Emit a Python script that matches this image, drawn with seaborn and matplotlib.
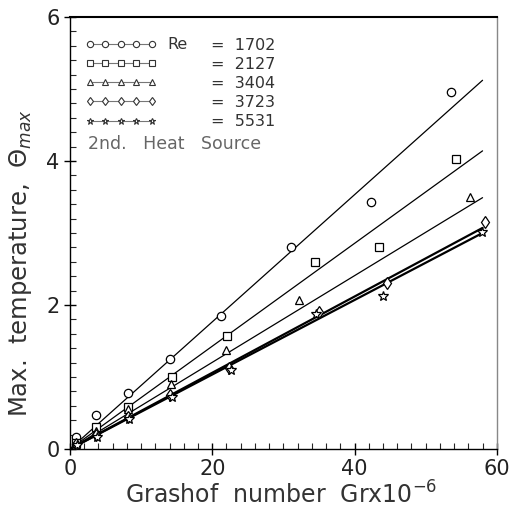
import numpy as np
import pandas as pd
import matplotlib
matplotlib.use("Agg")
import matplotlib.pyplot as plt
import seaborn as sns
from matplotlib.lines import Line2D
from matplotlib.ticker import MultipleLocator

# ---- data ----
re_labels = ["1702", "2127", "3404", "3723", "5531"]
markers = ["o", "s", "^", "d", "*"]

gr_1702 = [0.9, 3.7, 8.2, 14.1, 21.2, 31.1, 42.3, 53.6]
th_1702 = [0.17, 0.47, 0.78, 1.25, 1.85, 2.81, 3.43, 4.96]
gr_2127 = [0.9, 3.7, 8.2, 14.3, 22.1, 34.4, 43.4, 54.2]
th_2127 = [0.08, 0.31, 0.59, 1.00, 1.57, 2.59, 2.81, 4.03]
gr_3404 = [0.9, 3.7, 8.2, 14.2, 21.9, 32.2, 56.3]
th_3404 = [0.08, 0.25, 0.55, 0.90, 1.37, 2.07, 3.50]
gr_3723 = [0.9, 3.7, 8.2, 14.1, 22.4, 35.0, 44.6, 58.4]
th_3723 = [0.07, 0.20, 0.45, 0.75, 1.12, 1.90, 2.30, 3.15]
gr_5531 = [1.0, 3.8, 8.3, 14.3, 22.6, 34.6, 44.0, 57.9]
th_5531 = [0.06, 0.17, 0.42, 0.72, 1.10, 1.87, 2.12, 3.02]

fit_x = [0.0, 58.0]
fit_end = [5.12, 4.14, 3.49, 3.07, 3.00]

series_x = [gr_1702, gr_2127, gr_3404, gr_3723, gr_5531]
series_y = [th_1702, th_2127, th_3404, th_3723, th_5531]

rows = []
for lab, xs, ys in zip(re_labels, series_x, series_y):
    for x, y in zip(xs, ys):
        rows.append({"Re": lab, "Gr": x, "Theta": y})
df = pd.DataFrame(rows)

fit_rows = []
for lab, e in zip(re_labels, fit_end):
    fit_rows.append({"Re": lab, "Gr": fit_x[0], "Theta": 0.0})
    fit_rows.append({"Re": lab, "Gr": fit_x[1], "Theta": e})
fit_df = pd.DataFrame(fit_rows)

sns.set_theme(style="ticks")
plt.rcParams["font.family"] = ["DejaVu Sans"]

fig = plt.figure(figsize=(5.09, 5.12), dpi=100)
ax = fig.add_axes([0.1375, 0.123, 0.8385, 0.844])

widths = {"1702": 0.9, "2127": 0.9, "3404": 0.9, "3723": 1.6, "5531": 1.6}
for lab in re_labels:
    sub = fit_df[fit_df["Re"] == lab]
    sns.lineplot(data=sub, x="Gr", y="Theta", ax=ax, color="black",
                 lw=widths[lab], legend=False)

for lab, m in zip(re_labels, markers):
    sub = df[df["Re"] == lab]
    ax.plot(sub["Gr"], sub["Theta"], linestyle="none", marker=m,
            markersize=6 if m != "*" else 7, markerfacecolor="white",
            markeredgecolor="black", markeredgewidth=0.9, zorder=3)

ax.set_xlim(0, 60)
ax.set_ylim(0, 6)
ax.xaxis.set_major_locator(MultipleLocator(20))
ax.xaxis.set_minor_locator(MultipleLocator(2))
ax.yaxis.set_major_locator(MultipleLocator(2))
ax.yaxis.set_minor_locator(MultipleLocator(0.2))
ax.tick_params(which="major", direction="inout", length=8, width=1,
               labelsize=15, colors="black", labelcolor="#222222")
ax.tick_params(which="minor", direction="in", length=4, width=0.8)
for s in ax.spines.values():
    s.set_visible(True)
    s.set_color("black")
    s.set_linewidth(1.0)
ax.spines["top"].set_linewidth(1.5)
ax.spines["right"].set_color("#888888")

ax.set_xlabel("Grashof  number  Grx10$^{-6}$", fontsize=17, color="#333333")
ax.set_ylabel("Max.  temperature,  $\\Theta_{max}$", fontsize=17.5,
              color="#333333")
ax.xaxis.set_label_coords(0.495, -0.075)
ax.yaxis.set_label_coords(-0.085, 0.43)

handles = [Line2D([0], [0], color="#777777", lw=0.8, marker=m,
                  markersize=4.5, markerfacecolor="white",
                  markeredgecolor="#333333", markeredgewidth=0.8)
           for m in markers]
labels = ["=  " + r for r in re_labels]
leg = ax.legend(handles, labels, loc="upper left",
                bbox_to_anchor=(0.02, 0.967), frameon=False, numpoints=5,
                handlelength=4.5, handletextpad=3.4, labelspacing=0.26,
                fontsize=11.5, borderaxespad=0)
for t in leg.get_texts():
    t.set_color("#333333")
ax.text(0.228, 0.937, "Re", transform=ax.transAxes, fontsize=11.5,
        color="#333333", va="center", ha="left")
ax.text(0.042, 0.705, "2nd.   Heat   Source", transform=ax.transAxes,
        fontsize=12.5, color="#666666", va="center", ha="left")

fig.savefig("out.png", dpi=100)
